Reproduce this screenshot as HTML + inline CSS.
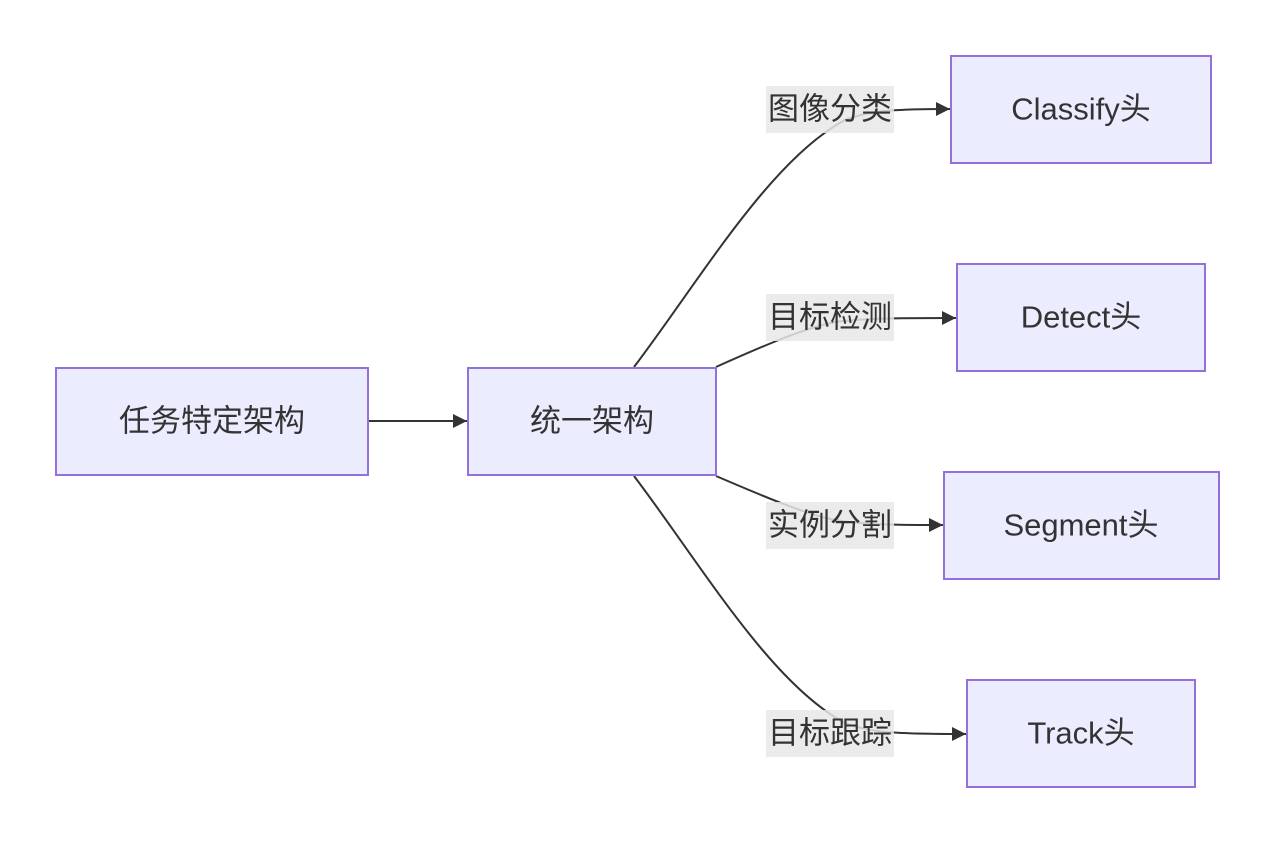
<!DOCTYPE html>
<html><head><meta charset="utf-8"><style>
html,body{margin:0;padding:0;background:#fff;}
svg{display:block;}
text{font-family:"Liberation Sans","Noto Sans CJK SC",sans-serif;fill:#333;}
</style></head><body>
<svg width="1275" height="844" viewBox="0 0 1275 844" xmlns="http://www.w3.org/2000/svg">
<defs>
<marker id="ah" viewBox="0 0 10 10" refX="10" refY="5" markerUnits="userSpaceOnUse" markerWidth="15" markerHeight="14" orient="auto">
<path d="M0,0 L10,5 L0,10 z" fill="#333"/>
</marker>
</defs>
<g fill="none" stroke="#333" stroke-width="2">
<path d="M368,421 L467,421" marker-end="url(#ah)"/>
<path d="M634,367 C700,280 770,160 845,120 C870,110 900,109 950,109" marker-end="url(#ah)"/>
<path d="M716,367 C765,345 805,328 835,322 C865,318 905,318 956,318" marker-end="url(#ah)"/>
<path d="M716,476 C765,497 805,514 835,520 C865,525 905,525 943,525" marker-end="url(#ah)"/>
<path d="M634,476 C700,563 770,683 845,723 C870,733 900,734 966,734" marker-end="url(#ah)"/>
</g>
<g fill="rgba(232,232,232,0.85)">
<rect x="766" y="86" width="128" height="47"/>
<rect x="766" y="294" width="128" height="47"/>
<rect x="766" y="502" width="128" height="47"/>
<rect x="766" y="710" width="128" height="47"/>
</g>
<g font-size="31" text-anchor="middle" dominant-baseline="central">
<text x="830" y="109">图像分类</text>
<text x="830" y="317">目标检测</text>
<text x="830" y="525">实例分割</text>
<text x="830" y="733">目标跟踪</text>
</g>
<g fill="#ECECFF" stroke="#9370DB" stroke-width="2">
<rect x="56" y="368" width="312" height="107"/>
<rect x="468" y="368" width="248" height="107"/>
<rect x="951" y="56" width="260" height="107"/>
<rect x="957" y="264" width="248" height="107"/>
<rect x="944" y="472" width="275" height="107"/>
<rect x="967" y="680" width="228" height="107"/>
</g>
<g font-size="31" text-anchor="middle" dominant-baseline="central">
<text x="212" y="421">任务特定架构</text>
<text x="592" y="421">统一架构</text>
<text x="1081" y="109">Classify头</text>
<text x="1081" y="317">Detect头</text>
<text x="1081" y="525">Segment头</text>
<text x="1081" y="733">Track头</text>
</g>
</svg>
</body></html>
